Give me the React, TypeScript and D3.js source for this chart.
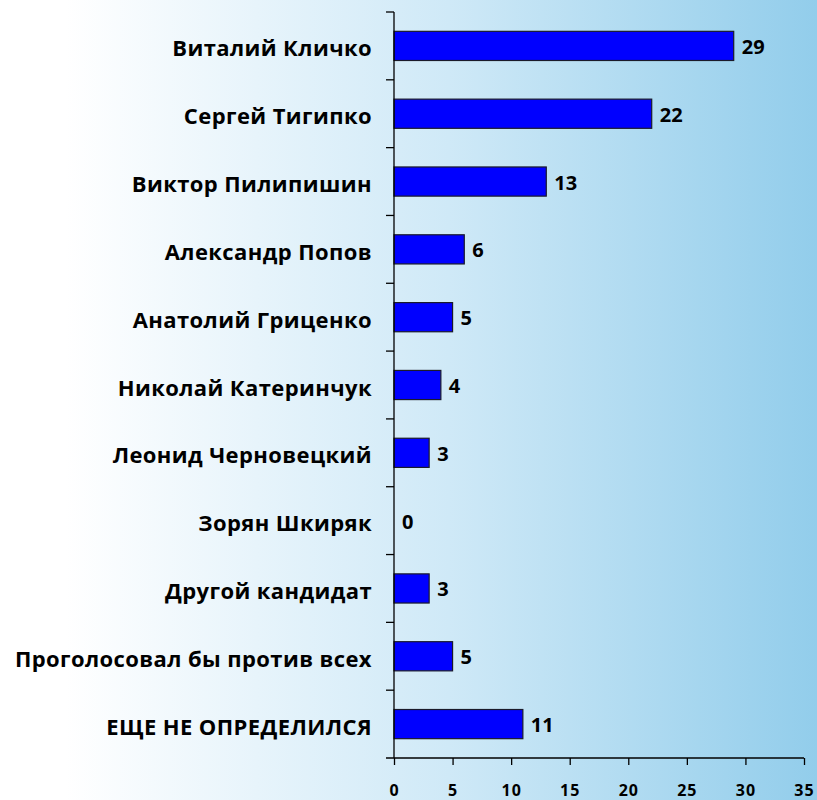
import * as d3 from "d3";
import React, {useEffect, useRef} from "react";

const candidates = [
    "Виталий Кличко",
    "Сергей Тигипко",
    "Виктор Пилипишин",
    "Александр Попов",
    "Анатолий Гриценко",
    "Николай Катеринчук",
    "Леонид Черновецкий",
    "Зорян Шкиряк",
    "Другой кандидат",
    "Проголосовал бы против всех",
    "ЕЩЕ НЕ ОПРЕДЕЛИЛСЯ",
];
const votes = [29, 22, 13, 6, 5, 4, 3, 0, 3, 5, 11];
const xTicks = [0, 5, 10, 15, 20, 25, 30, 35];

const width = 817;
const height = 800;
const margin = {top: 12, right: 13, bottom: 42, left: 394};
const font = "'Open Sans', sans-serif";

const App = () => {
    const ref = useRef<SVGSVGElement>(null);

    useEffect(() => {
        const svg = d3.select(ref.current);
        svg.selectAll("*").remove();

        // background gradient, white on the left to light blue on the right
        const grad = svg.append("defs").append("linearGradient")
            .attr("id", "bg")
            .attr("x1", "0").attr("x2", "1").attr("y1", "0").attr("y2", "0");
        grad.append("stop").attr("offset", "0.08").attr("stop-color", "#ffffff");
        grad.append("stop").attr("offset", "0.55").attr("stop-color", "#cfe9f7");
        grad.append("stop").attr("offset", "1").attr("stop-color", "#92cdeb");
        svg.append("rect")
            .attr("width", width).attr("height", height)
            .attr("fill", "url(#bg)");

        const innerW = width - margin.left - margin.right;
        const innerH = height - margin.top - margin.bottom;
        const g = svg.append("g")
            .attr("transform", `translate(${margin.left},${margin.top})`);

        const x = d3.scaleLinear().domain([0, 35]).range([0, innerW]);
        const y = d3.scaleBand().domain(candidates).range([0, innerH]).paddingInner(0.57).paddingOuter(0.285);
        const band = d3.scaleBand().domain(candidates).range([0, innerH]);

        // bars
        g.selectAll(".bar")
            .data(votes)
            .join("rect")
            .attr("class", "bar")
            .attr("x", 0)
            .attr("y", (d, i) => y(candidates[i]))
            .attr("width", d => x(d))
            .attr("height", y.bandwidth())
            .attr("fill", "#0000ff")
            .attr("stroke", "#1a1a2a")
            .attr("stroke-width", d => d > 0 ? 1.2 : 0);

        // value labels
        g.selectAll(".val")
            .data(votes)
            .join("text")
            .attr("class", "val")
            .attr("x", d => x(d) + 8)
            .attr("y", (d, i) => y(candidates[i]) + y.bandwidth() / 2)
            .attr("dy", "0.4em")
            .attr("font-family", font)
            .attr("font-weight", "bold")
            .attr("font-size", 20)
            .attr("fill", "#000")
            .text(d => d);

        // y axis with ticks between categories
        g.append("line")
            .attr("x1", 0).attr("x2", 0)
            .attr("y1", 0).attr("y2", innerH)
            .attr("stroke", "#000").attr("stroke-width", 1.3);
        const bounds = candidates.map(c => band(c));
        g.selectAll(".ytick")
            .data(bounds)
            .join("line")
            .attr("class", "ytick")
            .attr("x1", -8).attr("x2", 0)
            .attr("y1", d => d).attr("y2", d => d)
            .attr("stroke", "#000").attr("stroke-width", 1.3);

        g.selectAll(".ylab")
            .data(candidates)
            .join("text")
            .attr("class", "ylab")
            .attr("x", -22)
            .attr("y", d => band(d) + band.bandwidth() / 2)
            .attr("dy", "0.48em")
            .attr("text-anchor", "end")
            .attr("font-family", font)
            .attr("font-weight", "bold")
            .attr("font-size", 22)
            .attr("letter-spacing", 0.4)
            .attr("fill", "#000")
            .text(d => d);

        // x axis
        const xAxis = g.append("g")
            .attr("transform", `translate(0,${innerH})`)
            .call(d3.axisBottom(x).tickValues(xTicks).tickSize(7).tickPadding(20).tickSizeOuter(0));
        xAxis.select(".domain").attr("stroke", "#000").attr("stroke-width", 1.3)
            .attr("d", `M-8,0H${innerW}`);
        xAxis.selectAll(".tick line").attr("stroke", "#000").attr("stroke-width", 1.3);
        xAxis.selectAll(".tick text")
            .attr("font-family", font)
            .attr("font-weight", "bold")
            .attr("font-size", 16)
            .attr("letter-spacing", 1)
            .attr("fill", "#000");
    }, []);

    return (
        <svg ref={ref} width={width} height={height}
             style={{position: "absolute", left: 0, top: 0, display: "block"}}/>
    );
};

export default App;
